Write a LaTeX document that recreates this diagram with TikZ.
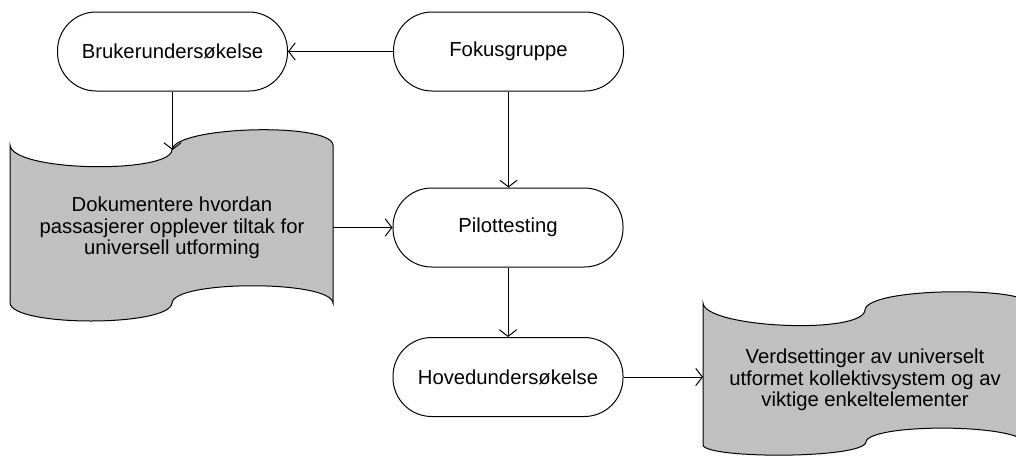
\documentclass[tikz,border=0pt]{standalone}
\usepackage{fontspec}
\setmainfont{Liberation Sans}
\usetikzlibrary{arrows.meta}
\definecolor{docgrey}{HTML}{C0C0C0}
\tikzset{
  lbl/.style={font=\fontsize{15.2}{16}\selectfont, align=center},
  term/.style={lbl, draw, line width=0.75pt, rectangle, rounded corners=29pt,
    minimum width=172.5pt, minimum height=59.25pt, inner sep=0pt},
  tape/.style={draw, line width=0.75pt, fill=docgrey},
  doctext/.style={lbl, inner sep=0pt},
  arr/.style={line width=0.75pt, -{Straight Barb[length=5pt,width=13pt]}},
}
\begin{document}
\begin{tikzpicture}[x=0.75pt,y=-0.75pt]
\useasboundingbox (0,0) rectangle (1016,457);
\clip (0,0) rectangle (1016,457);

% punched-tape shapes
\draw[tape] (10,145) .. controls (12,172) and (170,174) .. (172,150)
  .. controls (174,126) and (331,122) .. (333,145) -- (333,303)
  .. controls (331,280) and (174,280) .. (172,303)
  .. controls (170,327) and (12,327) .. (10,303) -- cycle;
\draw[tape] (703,303) .. controls (705,328) and (863,335) .. (865,310)
  .. controls (867,287) and (1025,287) .. (1027,303) -- (1027,445)
  .. controls (1025,423) and (868,423) .. (866,442)
  .. controls (864,459) and (705,459) .. (703,445) -- cycle;

\node[doctext] (doc1) at (172,228) {Dokumentere hvordan\\passasjerer opplever tiltak for\\universell utforming};
\node[doctext] (doc2) at (865,380) {Verdsettinger av universelt\\utformet kollektivsystem og av\\viktige enkeltelementer};

\coordinate (d1in) at (172.5,150);
\coordinate (d1out) at (333,227.5);
\coordinate (d2in) at (703,377);

% terminals
\node[term] (bruk) at (172.5,51.5) {Brukerundersøkelse};
\node[term] (fokus) at (508.5,51.5) {Fokusgruppe};
\node[term] (pilot) at (508,227.5) {Pilottesting};
\node[term] (hoved) at (508,377) {Hovedundersøkelse};

% connectors
\draw[arr] (fokus.west) -- (bruk.east);
\draw[arr] (bruk.south) -- (d1in);
\draw[arr] (fokus.south) -- (pilot.north -| fokus.south);
\draw[arr] (d1out) -- (pilot.west);
\draw[arr] (pilot.south) -- (hoved.north);
\draw[arr] (hoved.east) -- (d2in);
\end{tikzpicture}
\end{document}
